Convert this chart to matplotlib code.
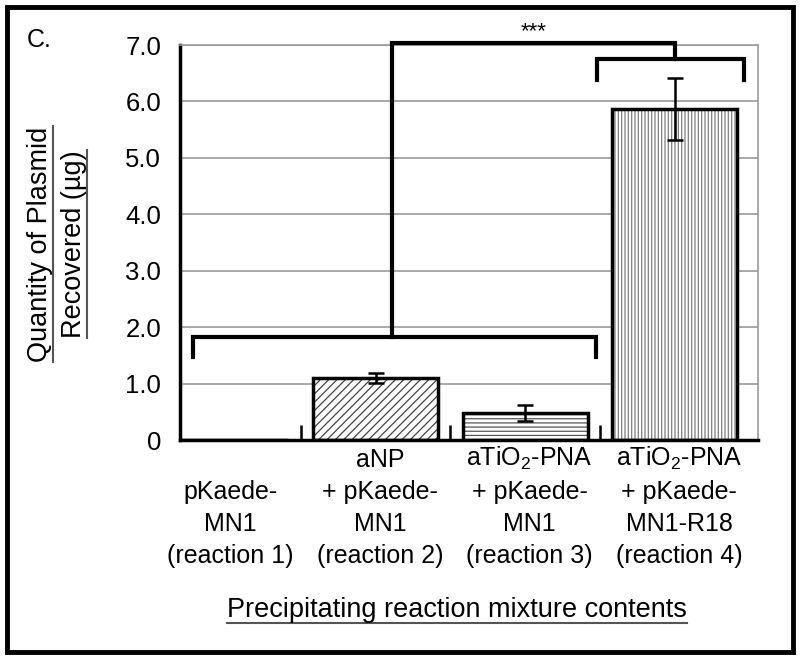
import matplotlib
matplotlib.use("Agg")
import matplotlib.pyplot as plt
from matplotlib.lines import Line2D
from matplotlib.patches import Rectangle

plt.rcParams['font.family'] = ['Liberation Sans', 'DejaVu Sans']
plt.rcParams['mathtext.default'] = 'regular'
plt.rcParams['hatch.linewidth'] = 0.9

# data
categories = ["pKaede-\nMN1\n(reaction 1)",
              "aNP\n+ pKaede-\nMN1\n(reaction 2)",
              "aTiO$_2$-PNA\n+ pKaede-\nMN1\n(reaction 3)",
              "aTiO$_2$-PNA\n+ pKaede-\nMN1-R18\n(reaction 4)"]
values = [0.0, 1.10, 0.48, 5.87]
errors = [0.0, 0.09, 0.14, 0.55]
hatches = ['', '////', '----', '|||||']
hatch_colors = ['#444444', '#444444', '#555555', '#808080']
yticks = [0, 1, 2, 3, 4, 5, 6, 7]
ytick_labels = ['0', '1.0', '2.0', '3.0', '4.0', '5.0', '6.0', '7.0']
sig_label = '***'


def underline(fig, txt, vertical=False, color='#555555', lw=1.5):
    fig.canvas.draw()
    bb = txt.get_window_extent().transformed(fig.transFigure.inverted())
    if vertical:
        line = Line2D([bb.x1, bb.x1], [bb.y0, bb.y1], transform=fig.transFigure,
                      color=color, lw=lw)
    else:
        line = Line2D([bb.x0, bb.x1], [bb.y0, bb.y0], transform=fig.transFigure,
                      color=color, lw=lw)
    fig.lines.append(line)


fig = plt.figure(figsize=(8, 6.6), dpi=100)
ax = fig.add_axes([0.225, 0.3333, 0.7225, 0.5985])

x = list(range(len(values)))
width = 0.835

# hatched fill, then black outline on top
for i in x:
    if values[i] > 0:
        ax.bar(i, values[i], width, color='white', edgecolor=hatch_colors[i],
               hatch=hatches[i], lw=0, zorder=2)
    ax.bar(i, values[i], width, fill=False, edgecolor='black', lw=2.5, zorder=3)

for i in x:
    if errors[i] > 0:
        ax.errorbar(i, values[i], yerr=errors[i], fmt='none', ecolor='black',
                    elinewidth=1.8, capsize=6, capthick=1.8, zorder=4)

ax.set_xlim(-0.307, 3.556)
ax.set_ylim(0, 7)
ax.set_yticks(yticks)
ax.set_yticklabels(ytick_labels, fontsize=18.5)
ax.tick_params(axis='y', length=0, pad=13.5)
ax.set_xticks([0.5, 1.5, 2.5])
ax.set_xticklabels([])
ax.tick_params(axis='x', direction='in', length=11, width=1.8, color='black')

ax.set_axisbelow(True)
ax.yaxis.grid(True, color='#999999', lw=1.2)
for side in ['left', 'bottom']:
    ax.spines[side].set_linewidth(2.5)
    ax.spines[side].set_color('black')
for side in ['top', 'right']:
    ax.spines[side].set_linewidth(1.2)
    ax.spines[side].set_color('#999999')

# category labels below axis
for i, lab in enumerate(categories):
    ax.text(i + 0.03, -0.325, lab, transform=ax.get_xaxis_transform(),
            ha='center', va='bottom', multialignment='center',
            fontsize=18, linespacing=1.42)

# significance brackets
bk = dict(color='black', lw=3, clip_on=False, solid_capstyle='projecting',
          solid_joinstyle='miter', zorder=5)
left_x0, left_x1 = x[0] - 0.22, x[2] + 0.47
right_x0, right_x1 = x[3] - 0.52, x[3] + 0.46
low_y, low_tip = 1.83, 1.47
high_y, high_tip = 6.76, 6.38
top_y = 7.03
mid_left = 1.11
ax.plot([left_x0, left_x0, left_x1, left_x1], [low_tip, low_y, low_y, low_tip], **bk)
ax.plot([mid_left, mid_left, x[3], x[3]], [low_y, top_y, top_y, high_y], **bk)
ax.plot([right_x0, right_x0, right_x1, right_x1], [high_tip, high_y, high_y, high_tip], **bk)
ax.text((mid_left + x[3]) / 2, 7.24, sig_label, ha='center', va='center',
        fontsize=16, clip_on=False)

# panel letter and axis labels
fig.text(27 / 800, 1 - 40 / 660, 'C.', fontsize=18, ha='left', va='center')

yl1 = fig.text(40 / 800, 1 - 244 / 660, 'Quantity of Plasmid', rotation=90,
               ha='center', va='center', fontsize=19.5)
yl2 = fig.text(74 / 800, 1 - 244 / 660, 'Recovered (µg)', rotation=90,
               ha='center', va='center', fontsize=19.5)
xl = fig.text(457 / 800, 1 - 617 / 660, 'Precipitating reaction mixture contents',
              ha='center', va='baseline', fontsize=19.5)
underline(fig, yl1, vertical=True)
underline(fig, yl2, vertical=True)
underline(fig, xl)

# outer frame
fig.patches.append(Rectangle((7 / 800, 8 / 660), 786 / 800, 645 / 660,
                             transform=fig.transFigure, fill=False,
                             edgecolor='black', lw=3.5))

fig.savefig('out.png', dpi=100)
